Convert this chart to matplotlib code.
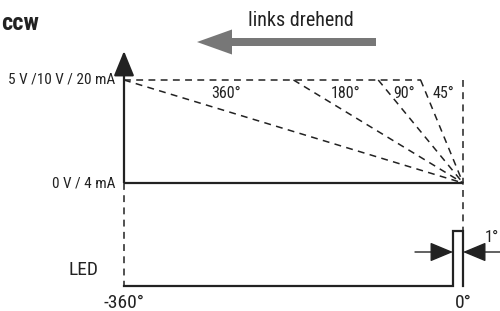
import matplotlib
matplotlib.use("Agg")
import matplotlib.pyplot as plt
from matplotlib.patches import FancyArrow
from matplotlib import font_manager

# ---------------- data ----------------
fan_angles = [360, 180, 90, 45]            # rotation range (deg) of each ramp
fan_labels = ["360°", "180°", "90°", "45°"]
level_high = 1.0                            # 5 V / 10 V / 20 mA
level_low = 0.0                             # 0 V / 4 mA
led_low = -1.0
led_high = -0.466
x_start = -360
x_end = 0
pulse_draw_width = 10.6                     # drawn width of the 1° LED pulse
y_labels = ["5 V /10 V / 20 mA", "0 V / 4 mA"]
x_labels = ["-360°", "0°"]

# ---------------- font ----------------
names = {f.name for f in font_manager.fontManager.ttflist}
fam = [n for n in ["Roboto Condensed", "Liberation Sans Narrow"] if n in names] + ["Liberation Sans", "DejaVu Sans"]
plt.rcParams["font.family"] = fam

W, H = 500, 311
fig = plt.figure(figsize=(W / 100, H / 100), dpi=100)
ax = fig.add_axes([0, 0, 1, 1])

# pixel-based limits so layout matches
def xdeg(px):
    return -360 + (px - 124) * 360 / 339

def ylev(py):
    return (183 - py) / 103

ax.set_xlim(xdeg(0), xdeg(W))
ax.set_ylim(ylev(H), ylev(0))
ax.axis("off")

k = "#222222"
lw = 1.6
dash = dict(color=k, lw=1.1, linestyle=(0, (4.5, 3.5)))

# y-axis with arrow
ax.plot([x_start, x_start], [level_low, level_high + 0.15], color=k, lw=lw, solid_capstyle="butt")
ax.annotate("", xy=(x_start, ylev(51)), xytext=(x_start, level_high + 0.1),
            arrowprops=dict(arrowstyle="-|>,head_length=1.1,head_width=0.45", color=k, lw=lw,
                            shrinkA=0, shrinkB=0, mutation_scale=14))

# low level line
ax.plot([x_start, x_end], [level_low, level_low], color=k, lw=lw, solid_capstyle="butt")

# top dashed line
ax.plot([x_start, -fan_angles[-1]], [level_high, level_high], **dash)

# fan ramps
for a in fan_angles:
    ax.plot([-a, x_end], [level_high, level_low], **dash)

# vertical dashed lines
ax.plot([x_end, x_end], [level_high, led_low], **dash)
ax.plot([x_start, x_start], [level_low, led_low], **dash)

# LED signal
px_ = [x_start, x_end - pulse_draw_width, x_end - pulse_draw_width, x_end, x_end]
py_ = [led_low, led_low, led_high, led_high, led_low]
ax.plot(px_, py_, color=k, lw=lw, solid_joinstyle="miter")

# fan labels
lab_x = [xdeg(226), xdeg(346), xdeg(404), xdeg(443)]
for lx, t in zip(lab_x, fan_labels):
    ax.text(lx, ylev(93), t, ha="center", va="center", fontsize=11.5, color=k)

# axis labels
fs = 11
ax.text(xdeg(115), level_high, y_labels[0], ha="right", va="center", fontsize=fs, color=k)
ax.text(xdeg(115), level_low, y_labels[1], ha="right", va="center", fontsize=fs, color=k)
ax.text(xdeg(84), ylev(270), "LED", ha="center", va="center", fontsize=14, color=k)
ax.text(x_start, ylev(303), x_labels[0], ha="center", va="center", fontsize=14, color=k)
ax.text(x_end, ylev(303), x_labels[1], ha="center", va="center", fontsize=14, color=k)

# 1° dimension arrows
ya = ylev(252)
ap = dict(arrowstyle="-|>,head_length=1.2,head_width=0.5", color=k, lw=1.0,
          shrinkA=0, shrinkB=0, mutation_scale=12)
ax.annotate("", xy=(x_end - pulse_draw_width, ya), xytext=(xdeg(415), ya), arrowprops=ap)
ax.annotate("", xy=(x_end, ya), xytext=(xdeg(502), ya), arrowprops=ap)
ax.text(xdeg(499), ylev(237), "1°", ha="right", va="center", fontsize=12, color=k)

# direction arrow
gray = "#777777"
tail, tip = xdeg(376), xdeg(197)
arr = FancyArrow(tail, ylev(42), tip - tail, 0, width=8 / 103, head_width=25 / 103,
                 head_length=xdeg(232) - xdeg(197), length_includes_head=True,
                 color=gray, lw=0)
ax.add_patch(arr)
ax.text(xdeg(301), ylev(20), "links drehend", ha="center", va="center", fontsize=14.5, color=k)

ax.text(xdeg(1), ylev(24), "ccw", ha="left", va="center", fontsize=17.5, fontweight="bold", color=k)

fig.savefig("out.png", dpi=100)
